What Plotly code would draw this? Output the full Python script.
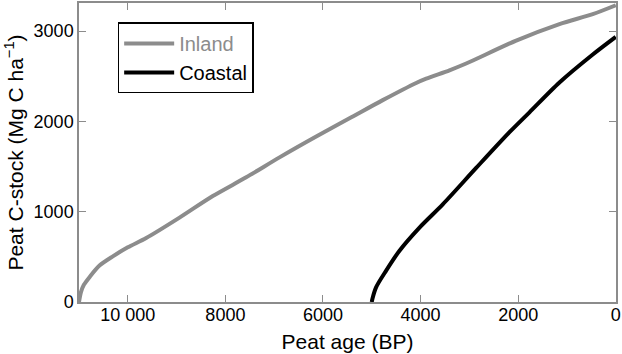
import plotly.graph_objects as go

inland_age = [11000, 10960, 10900, 10785, 10580, 10307, 10000, 9623, 8940, 8258, 7574, 6891, 6139,
              5457, 4775, 4090, 3885, 3408, 3066, 2041, 1154, 471, 0]
inland_c = [0, 110, 190, 275, 403, 505, 605, 708, 934, 1173, 1380, 1601, 1832,
            2033, 2235, 2425, 2473, 2565, 2640, 2894, 3077, 3187, 3285]

coastal_age = [5000, 4985, 4910, 4705, 4432, 4022, 3545, 2861, 2178, 1768, 1154, 471, 0]
coastal_c = [0, 40, 165, 348, 568, 824, 1081, 1484, 1880, 2100, 2430, 2740, 2935]

x_ticks = [10000, 8000, 6000, 4000, 2000, 0]
x_tick_labels = ["10 000", "8000", "6000", "4000", "2000", "0"]
y_ticks = [0, 1000, 2000, 3000]

FONT = "Liberation Sans, Arial, sans-serif"
AXIS_GRAY = "#8c8c8c"

fig = go.Figure()
fig.add_trace(go.Scatter(x=inland_age, y=inland_c, mode="lines",
                         name="<span style='color:#8c8c8c'>Inland</span>",
                         line=dict(color="#8c8c8c", width=4, shape="spline", smoothing=0.8)))
fig.add_trace(go.Scatter(x=coastal_age, y=coastal_c, mode="lines",
                         name="Coastal",
                         line=dict(color="black", width=4, shape="spline", smoothing=0.8)))

axis_common = dict(showline=True, linecolor=AXIS_GRAY, linewidth=1.5, mirror="ticks",
                   ticks="inside", ticklen=7, tickcolor=AXIS_GRAY, tickwidth=1,
                   showgrid=False, zeroline=False, ticklabeloverflow="allow",
                   tickfont=dict(family=FONT, size=18, color="black"))

fig.update_xaxes(range=[11000, -5], tickvals=x_ticks, ticktext=x_tick_labels,
                 ticklabelstandoff=-4,
                 title=dict(text="Peat age (BP)", font=dict(family=FONT, size=21, color="black"),
                            standoff=10),
                 **axis_common)
fig.update_yaxes(range=[0, 3310], tickvals=y_ticks,
                 title=dict(text="Peat C-stock (Mg C ha<sup>−1</sup>)",
                            font=dict(family=FONT, size=21, color="black"), standoff=4),
                 **axis_common)

fig.update_layout(
    width=622, height=354,
    margin=dict(l=79, r=5, t=1, b=52),
    paper_bgcolor="white", plot_bgcolor="white",
    font=dict(family=FONT, size=18, color="black"),
    legend=dict(x=0.072, y=0.935, xanchor="left", yanchor="top",
                bordercolor="black", borderwidth=1.5, bgcolor="white",
                font=dict(family=FONT, size=20, color="black"),
                tracegroupgap=0, itemwidth=50),
    showlegend=True,
)

fig.write_html("out.html")
